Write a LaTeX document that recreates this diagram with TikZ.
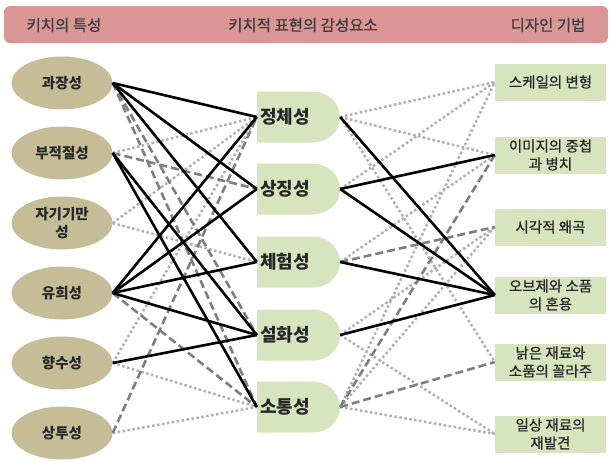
\documentclass[tikz,border=0pt]{standalone}
\usepackage{fontspec}
\setmainfont{Noto Sans CJK KR}
\newfontfamily\medfont[FakeBold=0.7]{Noto Sans CJK KR}
\usetikzlibrary{shapes.geometric}
\definecolor{hdrpink}{HTML}{D99694}
\definecolor{tan}{HTML}{C4BD97}
\definecolor{lgreen}{HTML}{D7E4BD}
\definecolor{dgray}{HTML}{7F7F7F}
\definecolor{lgray}{HTML}{B0B0B0}
\definecolor{txt}{HTML}{262626}
\begin{document}
\begin{tikzpicture}[x=1pt,y=-1pt,
  hdrbox/.style={rectangle, rounded corners=6pt, fill=hdrpink, minimum width=604pt, minimum height=37pt, inner sep=0pt},
  hdrtext/.style={text=txt!90!white, font=\medfont\fontsize{15.5}{17}\selectfont, inner sep=0pt},
  kitsch/.style={ellipse, fill=tan, minimum width=101pt, minimum height=53pt, inner sep=0pt, align=center, text=txt, font=\bfseries\fontsize{14.5}{18}\selectfont},
  midnode/.style={rectangle, minimum width=83pt, minimum height=51pt, inner sep=0pt, text=txt, font=\bfseries\fontsize{18}{20}\selectfont,
    path picture={\fill[lgreen] (path picture bounding box.north west) -- ++(56pt,0pt) arc[start angle=90, end angle=-90, x radius=27pt, y radius=25.5pt] -- (path picture bounding box.south west) -- cycle;}},
  tech/.style={rectangle, fill=lgreen, minimum width=111pt, minimum height=37pt, inner sep=1pt, align=center, text=txt, font=\medfont\fontsize{14.5}{18}\selectfont},
  sline/.style={line width=2.6pt, black},
  dline/.style={line width=2.6pt, dgray, dash pattern=on 8pt off 4pt},
  pline/.style={line width=2.5pt, lgray, dash pattern=on 2.5pt off 2.5pt}
]
\useasboundingbox (0,0) rectangle (612,461);
\node[hdrbox] (hdr) at (306,24.5) {};
\node[hdrtext] (h1) at (64,25) {키치의 특성};
\node[hdrtext] (h2) at (303,25) {키치적 표현의 감성요소};
\node[hdrtext] (h3) at (548,25) {디자인 기법};

\node[kitsch] (k1) at (62,83) {과장성};
\node[kitsch] (k2) at (62,153) {부적절성};
\node[kitsch] (k3) at (62,223) {자기기만\\성};
\node[kitsch] (k4) at (62,293) {유희성};
\node[kitsch] (k5) at (62,363) {향수성};
\node[kitsch] (k6) at (62,433) {상투성};

\node[midnode] (m1) at (298.5,117) {정체성\hspace*{27pt}};
\node[midnode] (m2) at (298.5,189) {상징성\hspace*{27pt}};
\node[midnode] (m3) at (298.5,262) {체험성\hspace*{27pt}};
\node[midnode] (m4) at (298.5,335) {설화성\hspace*{27pt}};
\node[midnode] (m5) at (298.5,407) {소통성\hspace*{27pt}};

\node[tech] (r1) at (550.5,82) {스케일의 변형};
\node[tech] (r2) at (550.5,155) {이미지의 중첩\\과 병치};
\node[tech] (r3) at (550.5,227) {시각적 왜곡};
\node[tech] (r4) at (550.5,295) {오브제와 소품\\의 혼용};
\node[tech] (r5) at (550.5,362) {낡은 재료와\\소품의 꼴라주};
\node[tech] (r6) at (550.5,434) {일상 재료의\\재발견};

% weak (dotted)
\draw[pline] (k2.east) -- (m1.west);
\draw[pline] (k3.east) -- (m1.west);
\draw[pline] (k3.east) -- (m3.west);
\draw[pline] (k5.east) -- (m1.west);
\draw[pline] (k5.east) -- (m5.west);
\draw[pline] (k6.east) -- (m5.west);
\draw[pline] (m1.east) -- (r1.west);
\draw[pline] (m1.east) -- (r2.west);
\draw[pline] (m1.east) -- (r5.west);
\draw[pline] (m2.east) -- (r1.west);
\draw[pline] (m3.east) -- (r2.west);
\draw[pline] (m4.east) -- (r3.west);
\draw[pline] (m4.east) -- (r6.west);
\draw[pline] (m5.east) -- (r1.west);
\draw[pline] (m5.east) -- (r3.west);
\draw[pline] (m5.east) -- (r6.west);
% medium (dashed)
\draw[dline] (k1.east) -- (m4.west);
\draw[dline] (k1.east) -- (m5.west);
\draw[dline] (k2.east) -- (m2.west);
\draw[dline] (k4.east) -- (m5.west);
\draw[dline] (k6.east) -- (m1.west);
\draw[dline] (m3.east) -- (r3.west);
\draw[dline] (m5.east) -- (r2.west);
\draw[dline] (m5.east) -- (r5.west);
% strong (solid)
\draw[sline] (k1.east) -- (m1.west);
\draw[sline] (k1.east) -- (m2.west);
\draw[sline] (k1.east) -- (m3.west);
\draw[sline] (k2.east) -- (m4.west);
\draw[sline] (k2.east) -- (m5.west);
\draw[sline] (k4.east) -- (m1.west);
\draw[sline] (k4.east) -- (m2.west);
\draw[sline] (k4.east) -- (m3.west);
\draw[sline] (k4.east) -- (m4.west);
\draw[sline] (k5.east) -- (m4.west);
\draw[sline] (m1.east) -- (r4.west);
\draw[sline] (m2.east) -- (r2.west);
\draw[sline] (m2.east) -- (r4.west);
\draw[sline] (m3.east) -- (r4.west);
\draw[sline] (m4.east) -- (r4.west);
\end{tikzpicture}
\end{document}
